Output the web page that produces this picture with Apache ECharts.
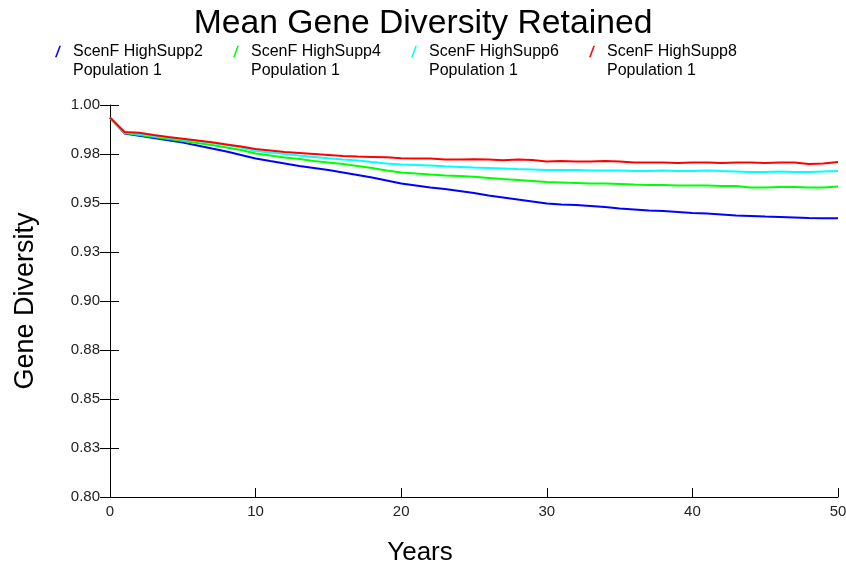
<!DOCTYPE html>
<html>
<head>
<meta charset="utf-8">
<title>Mean Gene Diversity Retained</title>
<script src="https://cdn.jsdelivr.net/npm/echarts@6/dist/echarts.min.js"></script>
<style>
  html, body { margin: 0; padding: 0; background: #fff; }
  #chart { width: 846px; height: 568px; }
</style>
</head>
<body>
<div id="chart"></div>
<script>
// Simulation years 0..50
const years = [
  0, 1, 2, 3, 4, 5, 6, 7, 8, 9, 10, 11, 12, 13, 14, 15, 16, 17, 18, 19, 20,
  21, 22, 23, 24, 25, 26, 27, 28, 29, 30, 31, 32, 33, 34, 35, 36, 37, 38, 39, 40,
  41, 42, 43, 44, 45, 46, 47, 48, 49, 50
];

const seriesNames = [
  'ScenF HighSupp2\nPopulation 1',
  'ScenF HighSupp4\nPopulation 1',
  'ScenF HighSupp6\nPopulation 1',
  'ScenF HighSupp8\nPopulation 1'
];

// Mean gene diversity per year
const highSupp2 = [
  0.9934, 0.9855, 0.9843, 0.9832, 0.9820, 0.9808, 0.9793, 0.9778, 0.9763, 0.9745, 0.9727,
  0.9714, 0.9702, 0.9689, 0.9679, 0.9668, 0.9656, 0.9643, 0.9630, 0.9615, 0.9599,
  0.9589, 0.9579, 0.9571, 0.9561, 0.9551, 0.9538, 0.9528, 0.9518, 0.9508, 0.9497,
  0.9492, 0.9490, 0.9485, 0.9480, 0.9472, 0.9467, 0.9462, 0.9459, 0.9454, 0.9449,
  0.9446, 0.9441, 0.9436, 0.9434, 0.9431, 0.9429, 0.9426, 0.9423, 0.9422, 0.9422
];
const highSupp4 = [
  0.9934, 0.9857, 0.9847, 0.9837, 0.9827, 0.9816, 0.9806, 0.9796, 0.9783, 0.9770, 0.9753,
  0.9742, 0.9732, 0.9724, 0.9714, 0.9707, 0.9699, 0.9689, 0.9679, 0.9666, 0.9656,
  0.9651, 0.9645, 0.9640, 0.9638, 0.9634, 0.9628, 0.9622, 0.9617, 0.9612, 0.9607,
  0.9605, 0.9602, 0.9599, 0.9599, 0.9597, 0.9594, 0.9592, 0.9592, 0.9589, 0.9589,
  0.9589, 0.9587, 0.9587, 0.9579, 0.9579, 0.9582, 0.9582, 0.9579, 0.9579, 0.9584
];
const highSupp6 = [
  0.9934, 0.9860, 0.9852, 0.9842, 0.9834, 0.9824, 0.9816, 0.9806, 0.9796, 0.9783, 0.9765,
  0.9758, 0.9750, 0.9742, 0.9735, 0.9728, 0.9722, 0.9717, 0.9709, 0.9702, 0.9696,
  0.9694, 0.9691, 0.9687, 0.9684, 0.9681, 0.9679, 0.9676, 0.9673, 0.9671, 0.9668,
  0.9668, 0.9668, 0.9666, 0.9666, 0.9666, 0.9663, 0.9663, 0.9666, 0.9663, 0.9663,
  0.9666, 0.9663, 0.9661, 0.9658, 0.9658, 0.9661, 0.9658, 0.9658, 0.9661, 0.9663
];
const highSupp8 = [
  0.9936, 0.9862, 0.9858, 0.9847, 0.9837, 0.9828, 0.9819, 0.9810, 0.9799, 0.9788, 0.9776,
  0.9768, 0.9760, 0.9755, 0.9750, 0.9745, 0.9740, 0.9737, 0.9735, 0.9733, 0.9728,
  0.9727, 0.9727, 0.9722, 0.9722, 0.9723, 0.9722, 0.9718, 0.9722, 0.9719, 0.9712,
  0.9714, 0.9712, 0.9712, 0.9714, 0.9712, 0.9707, 0.9707, 0.9707, 0.9704, 0.9707,
  0.9707, 0.9704, 0.9707, 0.9707, 0.9704, 0.9707, 0.9707, 0.9699, 0.9702, 0.9709
];

const seriesValues = [highSupp2, highSupp4, highSupp6, highSupp8];
const seriesColors = ['#0000ff', '#00ff00', '#00ffff', '#ff0000'];

const FONT = '"Liberation Sans", Arial, sans-serif';
const slashIcon = 'path://M0,12 L4.5,0 L6.2,0 L1.7,12 Z';

// Tick labels are shown with two decimals, half rounded up (0.825 -> 0.83)
function twoDecimals(v) {
  const thousandths = Math.round(v * 1000);
  return (Math.round(thousandths / 10) / 100).toFixed(2);
}

// Each legend entry is its own block; a leading blank line keeps the
// slash beside the first line of the two-line label.
const legendLefts = [55, 233, 411, 589];
const legends = seriesNames.map((name, i) => ({
  data: [name],
  left: legendLefts[i],
  top: 23,
  padding: 0,
  icon: slashIcon,
  itemWidth: 6,
  itemHeight: 12,
  selectedMode: false,
  formatter: n => '\n' + n,
  textStyle: {
    fontFamily: FONT,
    fontSize: 16,
    color: '#000',
    lineHeight: 19,
    padding: [0, 0, 0, 7]
  }
}));

const series = seriesNames.map((name, i) => ({
  name: name,
  type: 'line',
  data: years.map((y, j) => [y, seriesValues[i][j]]),
  showSymbol: false,
  symbol: 'none',
  color: seriesColors[i],
  lineStyle: { color: seriesColors[i], width: 2 },
  itemStyle: { color: seriesColors[i] },
  z: 2 + i
}));

const chart = echarts.init(document.getElementById('chart'), null, { renderer: 'canvas' });
chart.setOption({
  animation: false,
  backgroundColor: '#fff',
  title: {
    text: 'Mean Gene Diversity Retained',
    left: 'center',
    top: 2,
    textStyle: { fontFamily: FONT, fontSize: 33.7, fontWeight: 'normal', color: '#000' }
  },
  legend: legends,
  grid: {
    left: 110, right: 8, top: 105, bottom: 71,
    containLabel: false,
    outerBoundsMode: 'none'
  },
  xAxis: {
    type: 'value',
    min: 0,
    max: 50,
    interval: 10,
    name: 'Years',
    nameLocation: 'middle',
    nameGap: 43,
    nameTextStyle: { fontFamily: FONT, fontSize: 26, color: '#000', padding: [0, 108, 0, 0] },
    axisLine: { show: true, lineStyle: { color: '#000', width: 1 } },
    axisTick: { show: true, inside: true, length: 9, lineStyle: { color: '#000' } },
    axisLabel: { fontFamily: FONT, fontSize: 15, color: '#222', margin: 7 },
    splitLine: { show: false }
  },
  yAxis: [
    {
      type: 'value',
      min: 0.8,
      max: 1.0,
      interval: 0.025,
      name: 'Gene Diversity',
      nameLocation: 'middle',
      nameGap: 71,
      nameRotate: 90,
      nameTextStyle: { fontFamily: FONT, fontSize: 27, color: '#000' },
      axisLine: { show: true, lineStyle: { color: '#000', width: 1 } },
      axisTick: { show: true, inside: false, length: 10, lineStyle: { color: '#000' } },
      axisLabel: {
        fontFamily: FONT, fontSize: 15, color: '#222', margin: 10,
        formatter: twoDecimals
      },
      splitLine: { show: false }
    },
    {
      // inner half of the crossing y ticks
      type: 'value',
      position: 'left',
      min: 0.8,
      max: 1.0,
      interval: 0.025,
      axisLine: { show: false },
      axisTick: { show: true, inside: true, length: 9, lineStyle: { color: '#000' } },
      axisLabel: { show: false },
      splitLine: { show: false }
    }
  ],
  series: series
});
</script>
</body>
</html>
